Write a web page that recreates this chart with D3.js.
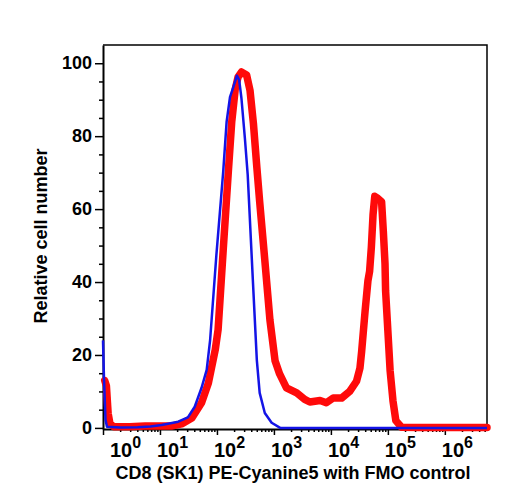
<!DOCTYPE html>
<html>
<head>
<meta charset="utf-8">
<script src="https://cdn.jsdelivr.net/npm/d3@7"></script>
<style>
  body { margin: 0; background: #fff; }
  text { font-family: "Liberation Sans", Arial, sans-serif; font-weight: bold; fill: #000; }
</style>
</head>
<body>
<div class="svg_area"></div>
<script>
// histogram overlay: stained sample (red) vs FMO control (blue)

// x values are decades (log10 of fluorescence), y is relative cell number
var decades = [0, 1, 2, 3, 4, 5, 6];
var yTicks = [0, 20, 40, 60, 80, 100];

var blueX = [0, 0.018, 0.044, 0.07, 0.3, 0.61, 0.83, 1.03, 1.32, 1.49, 1.61, 1.73, 1.82, 1.88, 1.99,
  2.11, 2.17, 2.23, 2.29, 2.35, 2.39, 2.43, 2.49, 2.54, 2.63, 2.7, 2.75, 2.84, 2.96, 3.11, 4.5, 6.74];
var blueY = [24, 13.2, 2.2, 0.3, 0.1, 0.2, 0.4, 0.8, 1.7, 2.9, 5.8, 11, 15.9, 24.1, 47.4,
  70.3, 84, 90.8, 93.6, 96.6, 95.4, 90.4, 79.5, 69.4, 40.6, 18.6, 9.6, 4.1, 1.4, 0, 0, 0];

var redX = [0.03, 0.06, 0.09, 0.123, 0.19, 0.47, 0.74, 1.2, 1.38, 1.56, 1.73, 1.85, 1.97, 2.02, 2.11,
  2.2, 2.26, 2.32, 2.37, 2.43, 2.52, 2.58, 2.64, 2.7, 2.75, 2.84, 2.93, 3.02, 3.1, 3.22, 3.4, 3.54,
  3.63, 3.81, 3.92, 4.04, 4.19, 4.33, 4.45, 4.51, 4.54, 4.6, 4.65, 4.68, 4.71, 4.74, 4.77, 4.82,
  4.89, 4.92, 4.95, 4.96, 5.0, 5.04, 5.09, 5.14, 5.24, 5.56, 6.74];
var redY = [13, 11.5, 4, 1.1, 0.3, 0.3, 0.5, 0.5, 1.1, 2.7, 6.9, 12.3, 21.4, 26.9, 48.8,
  70.3, 84, 92.8, 96.2, 97.6, 96.8, 92.6, 83.5, 71.5, 62, 46, 29.6, 18.4, 14.8, 11, 9.6, 7.8,
  7.1, 7.5, 6.9, 8.2, 8.2, 10, 12.8, 16.4, 21, 32, 40.3, 43, 49.5, 58.5, 63.5, 63,
  62, 54, 45, 37.6, 26.6, 15.6, 7.4, 2, 0.2, 0.1, 0.1];

var svgWidth = 508;
var svgHeight = 500;

var plot = { left: 103, right: 487, top: 45, bottom: 429 };

var svg = d3.select(".svg_area")
  .append("svg")
  .attr("width", svgWidth)
  .attr("height", svgHeight);

var xScale = d3.scaleLinear()
  .domain([0, 6.74])
  .range([plot.left, plot.right]);

var yScale = d3.scaleLinear()
  .domain([-0.3, 105])
  .range([plot.bottom, plot.top]);

// minor log ticks 2..9 inside each decade
var xMinor = [];
decades.forEach(function(d) {
  for (var k = 2; k <= 9; k++) {
    var v = d + Math.log10(k);
    if (v < 6.74) xMinor.push(v);
  }
});
var yMinor = d3.range(0, 105, 5).filter(function(v) { return v % 20 !== 0; });

// frame (top and right)
svg.append("path")
  .attr("d", "M" + plot.left + "," + plot.top + "H" + plot.right + "V" + plot.bottom)
  .attr("fill", "none")
  .attr("stroke", "#000")
  .attr("stroke-width", 1.5);

// x axis
var xMinorG = svg.append("g")
  .attr("transform", "translate(0," + plot.bottom + ")")
  .call(d3.axisBottom(xScale).tickValues(xMinor).tickSize(3).tickSizeOuter(0).tickFormat(""));
xMinorG.select(".domain").remove();

var xMajorG = svg.append("g")
  .attr("transform", "translate(0," + plot.bottom + ")")
  .call(d3.axisBottom(xScale).tickValues(decades).tickSize(6).tickSizeOuter(0).tickFormat(""));
xMajorG.select(".domain").attr("stroke-width", 2);
svg.selectAll(".tick line").attr("stroke-width", 1.5);

// x tick labels: 10 with superscript exponent
var xLabels = svg.append("g").selectAll("text")
  .data(decades)
  .enter()
  .append("text")
  .attr("x", function(d) { return xScale(d) + (d === 0 ? 7 : -3); })
  .attr("y", 457)
  .attr("font-size", 20);
xLabels.append("tspan").text("10");
xLabels.append("tspan")
  .attr("dy", -9)
  .attr("font-size", 16)
  .text(function(d) { return d; });

// y axis
var yMinorG = svg.append("g")
  .attr("transform", "translate(" + plot.left + ",0)")
  .call(d3.axisLeft(yScale).tickValues(yMinor).tickSize(4).tickSizeOuter(0).tickFormat(""));
yMinorG.select(".domain").remove();

var yMajorG = svg.append("g")
  .attr("transform", "translate(" + plot.left + ",0)")
  .call(d3.axisLeft(yScale).tickValues(yTicks).tickSize(8).tickSizeOuter(0));
yMajorG.select(".domain").attr("stroke-width", 2);
yMajorG.selectAll("text")
  .attr("font-size", 18)
  .attr("font-family", "Liberation Sans, Arial, sans-serif")
  .attr("font-weight", "bold")
  .attr("fill", "#000");
svg.selectAll(".tick line").attr("stroke-width", 1.5);

// histograms
var line = d3.line()
  .x(function(d) { return xScale(d[0]); })
  .y(function(d) { return yScale(d[1]); });

svg.append("path")
  .datum(d3.zip(redX, redY))
  .attr("d", line)
  .attr("fill", "none")
  .attr("stroke", "#ff0a0a")
  .attr("stroke-width", 7.5)
  .attr("stroke-linejoin", "round")
  .attr("stroke-linecap", "round");

svg.append("path")
  .datum(d3.zip(blueX, blueY))
  .attr("d", line)
  .attr("fill", "none")
  .attr("stroke", "#1414e6")
  .attr("stroke-width", 2.5)
  .attr("stroke-linejoin", "round");

// axis titles
svg.append("text")
  .attr("x", 293)
  .attr("y", 479)
  .attr("text-anchor", "middle")
  .attr("font-size", 18)
  .text("CD8 (SK1) PE-Cyanine5 with FMO control");

svg.append("text")
  .attr("transform", "translate(47,236) rotate(-90)")
  .attr("text-anchor", "middle")
  .attr("font-size", 18)
  .text("Relative cell number");
</script>
</body>
</html>
